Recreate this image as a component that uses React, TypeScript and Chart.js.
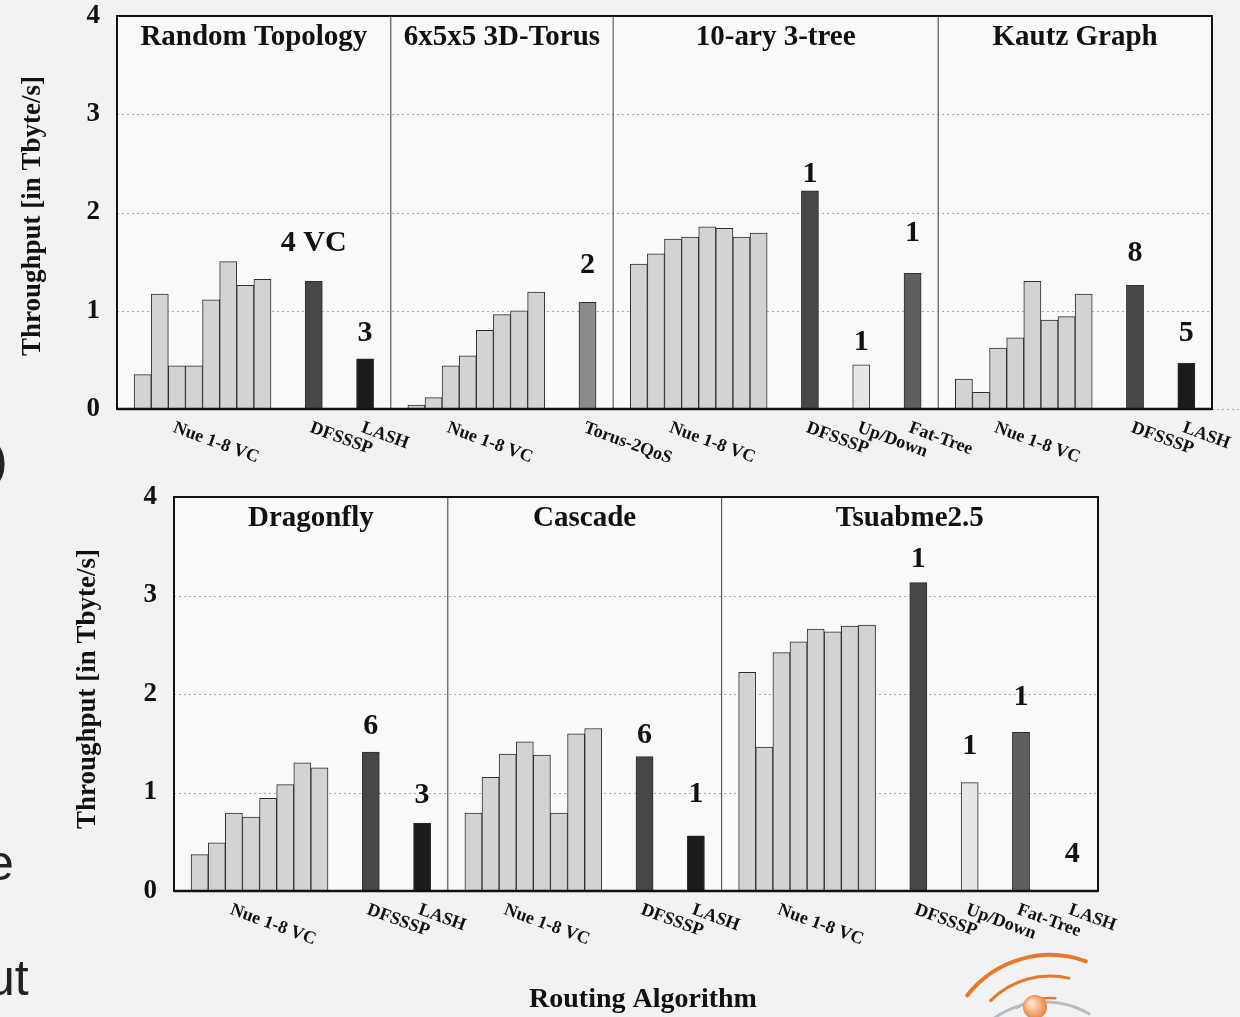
import React, { useEffect, useRef } from "react";
import { Chart, registerables } from "chart.js";

Chart.register(...registerables);

// ---------------- data ----------------
const nueLabel = "Nue 1-8 VC";
const yTicks = [0, 1, 2, 3, 4];
const gridValues = [1, 2, 3];
const yTitle = "Throughput [in Tbyte/s]";
const xTitle = "Routing Algorithm";

// top row
const randomTitle = "Random Topology";
const randomNue = [0.35, 1.17, 0.44, 0.44, 1.11, 1.5, 1.26, 1.32];
const randomAlgs = ["DFSSSP", "LASH"];
const randomVals = [1.3, 0.51];
const randomNotes = ["4 VC", "3"];
const randomNoteAt = [1.69, 0.77];

const torusTitle = "6x5x5 3D-Torus";
const torusNue = [0.04, 0.115, 0.44, 0.54, 0.8, 0.96, 1.0, 1.19];
const torusAlgs = ["Torus-2QoS"];
const torusVals = [1.085];
const torusNotes = ["2"];
const torusNoteAt = [1.46];

const treeTitle = "10-ary 3-tree";
const treeNue = [1.475, 1.58, 1.73, 1.75, 1.855, 1.84, 1.75, 1.79];
const treeAlgs = ["DFSSSP", "Up/Down", "Fat-Tree"];
const treeVals = [2.22, 0.45, 1.38];
const treeNotes = ["1", "1", "1"];
const treeNoteAt = [2.39, 0.68, 1.79];

const kautzTitle = "Kautz Graph";
const kautzNue = [0.305, 0.17, 0.62, 0.725, 1.3, 0.905, 0.94, 1.17];
const kautzAlgs = ["DFSSSP", "LASH"];
const kautzVals = [1.26, 0.465];
const kautzNotes = ["8", "5"];
const kautzNoteAt = [1.59, 0.77];

// bottom row
const dragonTitle = "Dragonfly";
const dragonNue = [0.37, 0.49, 0.79, 0.75, 0.94, 1.08, 1.3, 1.25];
const dragonAlgs = ["DFSSSP", "LASH"];
const dragonVals = [1.41, 0.69];
const dragonNotes = ["6", "3"];
const dragonNoteAt = [1.67, 0.975];

const cascadeTitle = "Cascade";
const cascadeNue = [0.79, 1.155, 1.39, 1.515, 1.38, 0.79, 1.595, 1.65];
const cascadeAlgs = ["DFSSSP", "LASH"];
const cascadeVals = [1.365, 0.56];
const cascadeNotes = ["6", "1"];
const cascadeNoteAt = [1.58, 0.985];

const tsubameTitle = "Tsuabme2.5";
const tsubameNue = [2.22, 1.46, 2.42, 2.53, 2.66, 2.63, 2.69, 2.7];
const tsubameAlgs = ["DFSSSP", "Up/Down", "Fat-Tree", "LASH"];
const tsubameVals = [3.13, 1.1, 1.61, 0];
const tsubameNotes = ["1", "1", "1", "4"];
const tsubameNoteAt = [3.365, 1.47, 1.965, 0.37];

// ---------------- styles ----------------
const SERIF = "'Liberation Serif', 'Times New Roman', serif";
const SANS = "'Liberation Sans', Arial, sans-serif";
const fillMap: Record<string, string> = {
  Nue: "#d3d3d3",
  DFSSSP: "#474747",
  LASH: "#1b1b1b",
  "Torus-2QoS": "#8b8b8b",
  "Up/Down": "#e7e7e7",
  "Fat-Tree": "#5f5f5f",
};

type Panel = { title: string; nue: number[]; algs: string[]; vals: number[]; notes: string[]; noteAt: number[] };

function mk(title: string, nue: number[], algs: string[], vals: number[], notes: string[], noteAt: number[]): Panel {
  return { title, nue, algs, vals, notes, noteAt };
}

const topPanels: Panel[] = [
  mk(randomTitle, randomNue, randomAlgs, randomVals, randomNotes, randomNoteAt),
  mk(torusTitle, torusNue, torusAlgs, torusVals, torusNotes, torusNoteAt),
  mk(treeTitle, treeNue, treeAlgs, treeVals, treeNotes, treeNoteAt),
  mk(kautzTitle, kautzNue, kautzAlgs, kautzVals, kautzNotes, kautzNoteAt),
];
const bottomPanels: Panel[] = [
  mk(dragonTitle, dragonNue, dragonAlgs, dragonVals, dragonNotes, dragonNoteAt),
  mk(cascadeTitle, cascadeNue, cascadeAlgs, cascadeVals, cascadeNotes, cascadeNoteAt),
  mk(tsubameTitle, tsubameNue, tsubameAlgs, tsubameVals, tsubameNotes, tsubameNoteAt),
];

function buildRow(panels: Panel[]) {
  const labels: string[] = [];
  const data: (number | null)[] = [];
  const kinds: string[] = [];
  const dividers: number[] = [];
  const ranges: { start: number; end: number; title: string }[] = [];
  const ticks: { idx: number; text: string }[] = [];
  const notes: { idx: number; text: string; at: number }[] = [];
  const push = (label: string, v: number | null, kind: string) => {
    labels.push(label);
    data.push(v);
    kinds.push(kind);
    return labels.length - 1;
  };
  panels.forEach((p, pi) => {
    const start = labels.length;
    if (pi > 0) dividers.push(start);
    push("", null, "gap");
    p.nue.forEach((v, i) => {
      const idx = push(nueLabel, v, "Nue");
      if (i === 2) ticks.push({ idx, text: nueLabel });
    });
    p.algs.forEach((a, i) => {
      push("", null, "gap");
      push("", null, "gap");
      const idx = push(a, p.vals[i], a);
      ticks.push({ idx, text: a });
      notes.push({ idx, text: p.notes[i], at: p.noteAt[i] });
    });
    push("", null, "gap");
    ranges.push({ start, end: labels.length, title: p.title });
  });
  return { labels, data, kinds, dividers, ranges, ticks, notes };
}

type RowCfg = {
  panels: Panel[];
  width: number;
  height: number;
  left: number;
  top: number;
  right: number;
  bottom: number;
  yTitleX: number;
  yTitleY: number;
  showXTitle: boolean;
  extendZero: boolean;
  decor: boolean;
};

function RowChart({ cfg }: { cfg: RowCfg }) {
  const ref = useRef<HTMLCanvasElement>(null);
  useEffect(() => {
    if (!ref.current) return;
    const row = buildRow(cfg.panels);
    const plugin = {
      id: "decor",
      beforeDatasetsDraw(chart: any) {
        const { ctx, chartArea: a, scales } = chart;
        ctx.save();
        ctx.fillStyle = "#f8f9f9";
        ctx.fillRect(a.left, a.top, a.right - a.left, a.bottom - a.top);
        ctx.strokeStyle = "#a9a9a9";
        ctx.lineWidth = 1;
        ctx.setLineDash([2, 3]);
        gridValues.forEach((v) => {
          const y = Math.round(scales.y.getPixelForValue(v)) + 0.5;
          ctx.beginPath();
          ctx.moveTo(a.left, y);
          ctx.lineTo(a.right, y);
          ctx.stroke();
        });
        if (cfg.extendZero) {
          const y = Math.round(scales.y.getPixelForValue(0)) + 0.5;
          ctx.beginPath();
          ctx.moveTo(a.right, y);
          ctx.lineTo(chart.width, y);
          ctx.stroke();
        }
        ctx.restore();
      },
      afterDatasetsDraw(chart: any) {
        const { ctx, chartArea: a, scales } = chart;
        const xs = scales.x;
        const ys = scales.y;
        const slot = xs.getPixelForValue(1) - xs.getPixelForValue(0);
        const edge = (i: number) => xs.getPixelForValue(i) - slot / 2;
        ctx.save();
        // dividers
        ctx.strokeStyle = "#5a5a5a";
        ctx.lineWidth = 1.2;
        row.dividers.forEach((i) => {
          const x = edge(i);
          ctx.beginPath();
          ctx.moveTo(x, a.top);
          ctx.lineTo(x, a.bottom);
          ctx.stroke();
        });
        // box
        ctx.strokeStyle = "#111";
        ctx.lineWidth = 2;
        ctx.strokeRect(a.left, a.top, a.right - a.left, a.bottom - a.top);
        ctx.lineWidth = 2.5;
        ctx.beginPath();
        ctx.moveTo(a.left, ys.getPixelForValue(0));
        ctx.lineTo(a.right, ys.getPixelForValue(0));
        ctx.stroke();
        // panel titles
        ctx.fillStyle = "#111";
        ctx.font = `bold 29px ${SERIF}`;
        ctx.textAlign = "center";
        ctx.textBaseline = "middle";
        row.ranges.forEach((r) => {
          const cx = (edge(r.start) + edge(r.end)) / 2;
          ctx.fillText(r.title, cx, a.top + 22);
        });
        // notes above bars
        ctx.font = `bold 30px ${SERIF}`;
        row.notes.forEach((n) => {
          ctx.fillText(n.text, xs.getPixelForValue(n.idx), ys.getPixelForValue(n.at));
        });
        // rotated x labels
        ctx.font = `bold 18px ${SERIF}`;
        ctx.textAlign = "left";
        ctx.textBaseline = "top";
        row.ticks.forEach((t) => {
          ctx.save();
          ctx.translate(xs.getPixelForValue(t.idx), a.bottom + 10);
          ctx.rotate((20 * Math.PI) / 180);
          ctx.fillText(t.text, 0, 0);
          ctx.restore();
        });
        // y title
        ctx.save();
        ctx.translate(cfg.yTitleX, cfg.yTitleY);
        ctx.rotate(-Math.PI / 2);
        ctx.font = `bold 27px ${SERIF}`;
        ctx.textAlign = "center";
        ctx.textBaseline = "middle";
        ctx.fillText(yTitle, 0, 0);
        ctx.restore();
        if (cfg.showXTitle) {
          ctx.font = `bold 28px ${SERIF}`;
          ctx.textAlign = "center";
          ctx.textBaseline = "middle";
          ctx.fillText(xTitle, 643, 1000 - 470);
        }
        if (cfg.decor) {
          // orange arcs of the logo
          const ox = 1050, oy = 1060 - 470;
          ctx.strokeStyle = "#e8782a";
          ctx.lineCap = "round";
          const arcs = [
            [105, 218, 290, 4],
            [84, 225, 283, 3],
            [62, 238, 275, 2.5],
          ];
          arcs.forEach(([r, s, e, w]) => {
            ctx.lineWidth = w;
            ctx.beginPath();
            ctx.arc(ox, oy, r, (s * Math.PI) / 180, (e * Math.PI) / 180);
            ctx.stroke();
          });
          ctx.strokeStyle = "#b9bcc0";
          ctx.lineWidth = 3;
          ctx.beginPath();
          ctx.arc(1045, 1090 - 470, 88, (212 * Math.PI) / 180, (300 * Math.PI) / 180);
          ctx.stroke();
          const g = ctx.createRadialGradient(1031, 1003 - 470, 2, 1035, 1007 - 470, 13);
          g.addColorStop(0, "#ffe0c8");
          g.addColorStop(1, "#ea7d35");
          ctx.fillStyle = g;
          ctx.beginPath();
          ctx.arc(1035, 1007 - 470, 12, 0, Math.PI * 2);
          ctx.fill();
        }
        ctx.restore();
      },
    };
    const chart = new Chart(ref.current, {
      type: "bar",
      data: {
        labels: row.labels,
        datasets: [
          {
            data: row.data,
            backgroundColor: row.kinds.map((k) => fillMap[k] ?? "rgba(0,0,0,0)"),
            borderColor: "#2e2e2e",
            borderWidth: 1,
            barPercentage: 1,
            categoryPercentage: 1,
            borderSkipped: "bottom",
          } as any,
        ],
      },
      options: {
        responsive: false,
        animation: false,
        devicePixelRatio: 1,
        layout: { padding: { left: 0, top: cfg.top, right: cfg.width - cfg.right, bottom: 0 } },
        plugins: { legend: { display: false }, tooltip: { enabled: false } },
        scales: {
          x: {
            type: "category",
            ticks: { display: false },
            grid: { display: false },
            border: { display: false },
            afterFit: (s: any) => {
              s.height = cfg.height - cfg.bottom;
              s.paddingLeft = 0;
              s.paddingRight = 0;
              s.paddingTop = 0;
              s.paddingBottom = 0;
            },
          },
          y: {
            min: 0,
            max: 4,
            afterBuildTicks: (s: any) => {
              s.ticks = yTicks.map((v) => ({ value: v }));
            },
            ticks: { font: { family: SERIF, size: 27, weight: "bold" }, color: "#111", padding: 17 },
            grid: { display: false, drawTicks: false },
            border: { display: false },
            afterFit: (s: any) => {
              s.width = cfg.left;
              s.paddingTop = 0;
              s.paddingBottom = 0;
              s.paddingLeft = 0;
              s.paddingRight = 0;
            },
          },
        },
      } as any,
      plugins: [plugin],
    });
    return () => chart.destroy();
  }, [cfg]);
  return <canvas ref={ref} width={cfg.width} height={cfg.height} style={{ display: "block", width: cfg.width, height: cfg.height }} />;
}

const topCfg: RowCfg = {
  panels: topPanels,
  width: 1240,
  height: 470,
  left: 117,
  top: 16,
  right: 1212,
  bottom: 409,
  yTitleX: 33,
  yTitleY: 216,
  showXTitle: false,
  extendZero: true,
  decor: false,
};
const bottomCfg: RowCfg = {
  panels: bottomPanels,
  width: 1240,
  height: 547,
  left: 174,
  top: 27,
  right: 1098,
  bottom: 421,
  yTitleX: 88,
  yTitleY: 689 - 470,
  showXTitle: true,
  extendZero: false,
  decor: true,
};

export default function App() {
  const frag = { position: "absolute" as const, font: `50px ${SANS}`, color: "#222", lineHeight: "50px" };
  return (
    <div
      style={{
        position: "fixed",
        left: 0,
        top: 0,
        width: 1240,
        height: 1017,
        overflow: "hidden",
        background: "#f1f2f3",
      }}
    >
      <div style={{ position: "absolute", left: 0, top: 0 }}>
        <RowChart cfg={topCfg} />
      </div>
      <div style={{ position: "absolute", left: 0, top: 470 }}>
        <RowChart cfg={bottomCfg} />
      </div>
      <div style={{ ...frag, left: -9, top: 435 }}>)</div>
      <div style={{ ...frag, left: -14, top: 838 }}>e</div>
      <div style={{ ...frag, left: -13, top: 953 }}>ut</div>
    </div>
  );
}
